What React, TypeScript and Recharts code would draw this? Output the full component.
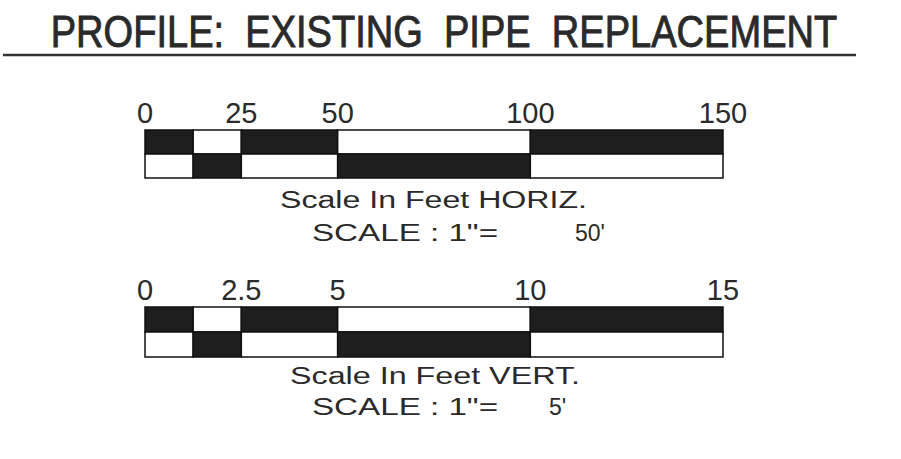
import React from 'react';
import { BarChart, Bar, XAxis, YAxis, Cell } from 'recharts';

// horizontal scale (feet)
const hTicks = [0, 25, 50, 100, 150];
const hSegments = [12.5, 12.5, 25, 50, 50];

// vertical scale (feet)
const vTicks = [0, 2.5, 5, 10, 15];
const vSegments = [1.25, 1.25, 2.5, 5, 5];

const rows = ['top', 'bottom'];
const topPattern = ['dark', 'light', 'dark', 'light', 'dark'];
const bottomPattern = ['light', 'dark', 'light', 'dark', 'light'];

const DARK = '#1e1e1e';
const LIGHT = '#ffffff';
const INK = '#2a2a2a';
const FONT = '"Liberation Sans", Arial, sans-serif';

interface ScaleBarProps {
  ticks: number[];
  segments: number[];
  top: number;
  barHeight: number;
}

const ScaleBar: React.FC<ScaleBarProps> = ({ ticks, segments, top, barHeight }) => {
  const data = rows.map((row) => {
    const entry: Record<string, string | number> = { row };
    segments.forEach((v, i) => {
      entry[`s${i}`] = v;
    });
    return entry;
  });
  const max = ticks[ticks.length - 1];

  // 30px of margin + 30px of axis above the bars
  return (
    <div style={{ position: 'absolute', left: 0, top: top - 60 }}>
      <BarChart
        width={901}
        height={60 + barHeight + 4}
        data={data}
        layout="vertical"
        barCategoryGap={0}
        margin={{ top: 30, right: 178, bottom: 4, left: 145 }}
      >
        <XAxis
          type="number"
          orientation="top"
          domain={[0, max]}
          ticks={ticks}
          interval={0}
          height={30}
          axisLine={false}
          tickLine={false}
          tickSize={0}
          tickMargin={7}
          tick={{ fontSize: 29, fill: INK, fontFamily: FONT }}
        />
        <YAxis type="category" dataKey="row" hide />
        {segments.map((_, i) => (
          <Bar key={i} dataKey={`s${i}`} stackId="a" stroke="#111" strokeWidth={1.5} isAnimationActive={false}>
            {rows.map((row, r) => {
              const kind = r === 0 ? topPattern[i] : bottomPattern[i];
              return <Cell key={`${row}-${i}`} fill={kind === 'dark' ? DARK : LIGHT} />;
            })}
          </Bar>
        ))}
      </BarChart>
    </div>
  );
};

const captionStyle = { fontFamily: FONT, fontSize: 23, fill: INK };

export default function App() {
  return (
    <div style={{ position: 'fixed', left: 0, top: 0, width: 901, height: 459, background: '#fff', overflow: 'hidden' }}>
      <svg width={901} height={459} style={{ position: 'absolute', left: 0, top: 0 }}>
        {/* no narrow font installed, so squeeze the regular one */}
        <text
          x={0}
          y={0}
          textAnchor="middle"
          transform="translate(444,47) scale(0.865,1)"
          stroke="#2a2a2a"
          strokeWidth={0.9}
          style={{ fontFamily: FONT, fontSize: 44, fill: '#2a2a2a', whiteSpace: 'pre' }}
        >
          {'PROFILE:  EXISTING  PIPE  REPLACEMENT'}
        </text>
        <line x1={3} y1={55} x2={856} y2={55} stroke="#333" strokeWidth={2.5} />

        <text x={280} y={208} textLength={307} lengthAdjust="spacingAndGlyphs" style={captionStyle}>
          Scale In Feet HORIZ.
        </text>
        <text x={312} y={241} textLength={186} lengthAdjust="spacingAndGlyphs" style={captionStyle}>
          SCALE : 1"=
        </text>
        <text x={575} y={241} style={captionStyle}>
          50'
        </text>

        <text x={290} y={384} textLength={290} lengthAdjust="spacingAndGlyphs" style={captionStyle}>
          Scale In Feet VERT.
        </text>
        <text x={312} y={415} textLength={186} lengthAdjust="spacingAndGlyphs" style={captionStyle}>
          SCALE : 1"=
        </text>
        <text x={549} y={415} style={captionStyle}>
          5'
        </text>
      </svg>
      <ScaleBar ticks={hTicks} segments={hSegments} top={130} barHeight={48} />
      <ScaleBar ticks={vTicks} segments={vSegments} top={307} barHeight={50} />
    </div>
  );
}
